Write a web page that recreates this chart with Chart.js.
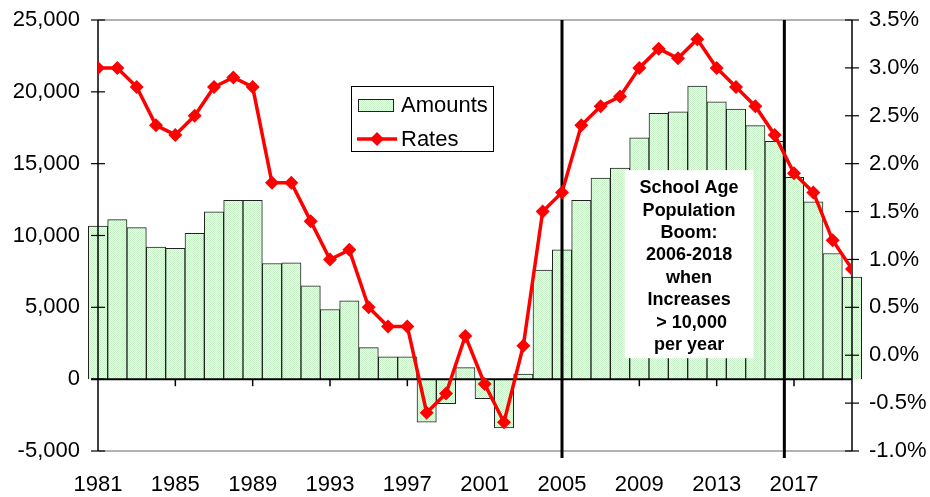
<!DOCTYPE html>
<html>
<head>
<meta charset="utf-8">
<script src="https://cdn.jsdelivr.net/npm/chart.js@4.4.1/dist/chart.umd.min.js"></script>
<style>
  html, body { margin: 0; padding: 0; background: #fff; }
  #wrap { width: 930px; height: 497px; }
</style>
</head>
<body>
<div id="wrap"><canvas id="chart" width="930" height="497"></canvas></div>
<script>
// values
const years = [1981, 1982, 1983, 1984, 1985, 1986, 1987, 1988, 1989, 1990,
               1991, 1992, 1993, 1994, 1995, 1996, 1997, 1998, 1999, 2000,
               2001, 2002, 2003, 2004, 2005, 2006, 2007, 2008, 2009, 2010,
               2011, 2012, 2013, 2014, 2015, 2016, 2017, 2018, 2019, 2020];
const amounts = [10650, 11100, 10550, 9200, 9100, 10150, 11650, 12450, 12450, 8050,
                 8100, 6500, 4850, 5450, 2200, 1550, 1550, -3000, -1700, 800,
                 -1350, -3400, 350, 7600, 9000, 12450, 14000, 14700, 16800, 18500,
                 18600, 20400, 19300, 18800, 17650, 16550, 14050, 12350, 8750, 7100];
const rates = [3.0, 3.0, 2.8, 2.4, 2.3, 2.5, 2.8, 2.9, 2.8, 1.8,
               1.8, 1.4, 1.0, 1.1, 0.5, 0.3, 0.3, -0.6, -0.4, 0.2,
               -0.3, -0.7, 0.1, 1.5, 1.7, 2.4, 2.6, 2.7, 3.0, 3.2,
               3.1, 3.3, 3.0, 2.8, 2.6, 2.3, 1.9, 1.7, 1.2, 0.9];
const xTicks = [1981, 1985, 1989, 1993, 1997, 2001, 2005, 2009, 2013, 2017];
const amountTicks = [-5000, 0, 5000, 10000, 15000, 20000, 25000];
const rateTicks = [-1.0, -0.5, 0.0, 0.5, 1.0, 1.5, 2.0, 2.5, 3.0, 3.5];
const boomLines = [2005, 2016.5];
const noteLines = ['School Age', 'Population', 'Boom:', '2006-2018', 'when', 'Increases', ' > 10,000', 'per year'];

const FONT = "'Liberation Sans', Arial, sans-serif";

const canvas = document.getElementById('chart');
const ctx = canvas.getContext('2d');

// light green dotted fill like the original
function dots() {
  const c = document.createElement('canvas');
  c.width = 2; c.height = 2;
  const g = c.getContext('2d');
  g.fillStyle = '#f0fcf0'; g.fillRect(0, 0, 2, 2);
  g.fillStyle = '#c6f0c6'; g.fillRect(0, 0, 1, 1); g.fillRect(1, 1, 1, 1);
  return ctx.createPattern(c, 'repeat');
}
const greenDots = dots();

function seg(c, x1, y1, x2, y2) {
  c.beginPath(); c.moveTo(x1, y1); c.lineTo(x2, y2); c.stroke();
}
function diamond(c, x, y, r) {
  c.beginPath();
  c.moveTo(x, y - r); c.lineTo(x + r, y); c.lineTo(x, y + r); c.lineTo(x - r, y);
  c.closePath(); c.fill();
}
// keep the plot area where the original has it
function noPad(s) {
  s.paddingTop = 0; s.paddingBottom = 0; s.paddingLeft = 0; s.paddingRight = 0;
}

const decor = {
  id: 'decor',
  afterDatasetDraw(chart, args) {
    if (args.index !== 1) return; // right after the bars
    const c = chart.ctx, a = chart.chartArea;
    const { x, yL, yR } = chart.scales;
    c.save();
    // plot border top / bottom
    c.strokeStyle = '#999'; c.lineWidth = 1.5;
    seg(c, a.left, a.top, a.right, a.top);
    seg(c, a.left, a.bottom, a.right, a.bottom);
    // zero line
    const y0 = yL.getPixelForValue(0);
    c.strokeStyle = '#000'; c.lineWidth = 2;
    seg(c, a.left - 7, y0, a.right, y0);
    c.lineWidth = 1.5;
    xTicks.slice(1).forEach(v => {
      const px = x.getPixelForValue(v);
      seg(c, px, y0, px, y0 + 7);
    });
    // value axes with crossing tick marks
    c.lineWidth = 1.5;
    seg(c, a.left, a.top, a.left, a.bottom);
    seg(c, a.right, a.top, a.right, a.bottom);
    c.lineWidth = 1.2;
    amountTicks.forEach(v => {
      const py = yL.getPixelForValue(v);
      seg(c, a.left - 7, py, a.left + 7, py);
    });
    rateTicks.forEach(v => {
      const py = yR.getPixelForValue(v);
      seg(c, a.right - 7, py, a.right + 7, py);
    });
    // boom period markers
    c.lineWidth = 3;
    boomLines.forEach(v => {
      const px = x.getPixelForValue(v);
      seg(c, px, a.top, px, a.bottom + 7);
    });
    // note box
    const bl = x.getPixelForValue(2008.25), br = x.getPixelForValue(2014.9);
    const bt = yL.getPixelForValue(14550), bb = yL.getPixelForValue(1460);
    c.fillStyle = '#fff';
    c.fillRect(bl, bt, br - bl, bb - bt);
    c.fillStyle = '#000';
    c.font = 'bold 18px ' + FONT;
    c.textAlign = 'center'; c.textBaseline = 'middle';
    noteLines.forEach((t, i) => c.fillText(t, (bl + br) / 2, bt + 18 + i * 22.4));
    c.restore();
  },
  afterDatasetsDraw(chart) {
    // legend box
    const c = chart.ctx;
    c.save();
    c.fillStyle = '#fff';
    c.fillRect(351, 86, 143, 66);
    c.strokeStyle = '#000'; c.lineWidth = 1;
    c.strokeRect(351.5, 86.5, 142, 65);
    c.fillStyle = greenDots;
    c.fillRect(358, 99, 36, 13);
    c.strokeStyle = '#222';
    c.strokeRect(358.5, 99.5, 35, 12);
    c.strokeStyle = '#ff0000'; c.lineWidth = 3.5;
    seg(c, 357, 139, 397, 139);
    c.fillStyle = '#ff0000';
    diamond(c, 377, 139, 7);
    c.fillStyle = '#000';
    c.font = '22px ' + FONT;
    c.textAlign = 'left'; c.textBaseline = 'middle';
    c.fillText('Amounts', 401, 106);
    c.fillText('Rates', 401, 140);
    c.restore();
  }
};

new Chart(ctx, {
  type: 'bar',
  data: {
    datasets: [{
      type: 'line',
      label: 'Rates',
      data: years.map((y, i) => ({ x: y, y: rates[i] })),
      yAxisID: 'yR',
      borderColor: '#ff0000',
      borderWidth: 3.5,
      pointStyle: 'rectRot',
      pointRadius: 7,
      pointBorderWidth: 0,
      pointBackgroundColor: '#ff0000',
      tension: 0,
      order: 0
    }, {
      type: 'bar',
      label: 'Amounts',
      data: years.map((y, i) => ({ x: y, y: amounts[i] })),
      yAxisID: 'yL',
      backgroundColor: greenDots,
      borderColor: '#222',
      borderWidth: 1,
      barPercentage: 1,
      categoryPercentage: 1,
      clip: false,
      order: 1
    }]
  },
  options: {
    responsive: false,
    animation: false,
    devicePixelRatio: 1,
    layout: { padding: { top: 20, left: 0, right: 0, bottom: 0 } },
    plugins: { legend: { display: false }, tooltip: { enabled: false } },
    scales: {
      x: {
        type: 'linear',
        position: 'bottom',
        min: years[0],
        max: years[years.length - 1],
        offset: false,
        afterBuildTicks: s => { s.ticks = xTicks.map(v => ({ value: v })); },
        afterFit: s => { s.height = 46; noPad(s); },
        grid: { display: false, drawTicks: false },
        border: { display: false },
        ticks: {
          padding: 21,
          maxRotation: 0,
          autoSkip: false,
          color: '#000',
          font: { family: FONT, size: 22 },
          callback: v => String(v)
        }
      },
      yL: {
        type: 'linear',
        position: 'left',
        min: amountTicks[0],
        max: amountTicks[amountTicks.length - 1],
        afterBuildTicks: s => { s.ticks = amountTicks.map(v => ({ value: v })); },
        afterFit: s => { s.width = 98; noPad(s); },
        grid: { display: false, drawTicks: false },
        border: { display: false },
        ticks: {
          padding: 18,
          color: '#000',
          font: { family: FONT, size: 22 },
          callback: v => v.toLocaleString('en-US')
        }
      },
      yR: {
        type: 'linear',
        position: 'right',
        min: rateTicks[0],
        max: rateTicks[rateTicks.length - 1],
        afterBuildTicks: s => { s.ticks = rateTicks.map(v => ({ value: v })); },
        afterFit: s => { s.width = 78; noPad(s); },
        grid: { display: false, drawTicks: false },
        border: { display: false },
        ticks: {
          padding: 17,
          color: '#000',
          font: { family: FONT, size: 22 },
          callback: v => v.toFixed(1) + '%'
        }
      }
    }
  },
  plugins: [decor]
});
</script>
</body>
</html>
